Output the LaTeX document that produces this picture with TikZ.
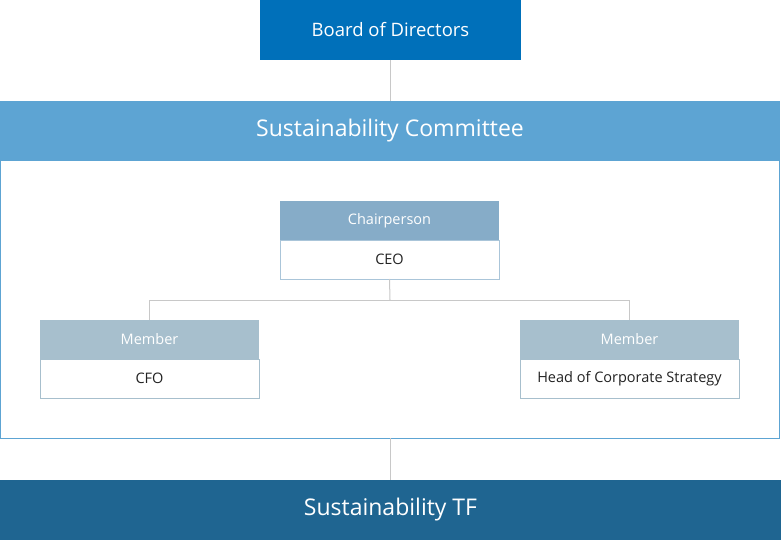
\documentclass[tikz,border=0pt]{standalone}
\usepackage{fontspec}
\setmainfont{Open Sans}
\usetikzlibrary{positioning}

\definecolor{boardblue}{HTML}{0070BA}
\definecolor{cmteblue}{HTML}{5DA4D3}
\definecolor{chairblue}{HTML}{86ACC8}
\definecolor{membergray}{HTML}{A7BFCD}
\definecolor{tfblue}{HTML}{1F6591}
\definecolor{linkgray}{HTML}{C8C8C8}
\definecolor{textdark}{HTML}{222222}

\begin{document}
\begin{tikzpicture}[
    x=1pt, y=-1pt,
    every node/.style   = {inner sep=0pt, outer sep=0pt},
    bigbar/.style       = {anchor=north west, minimum height=60pt,
                           text=white, font=\fontsize{23}{27}\selectfont},
    boardbox/.style     = {anchor=north west, fill=boardblue, minimum width=261pt,
                           minimum height=60pt, text=white,
                           font=\fontsize{18.5}{22}\selectfont},
    cmteframe/.style    = {anchor=north west, draw=cmteblue, line width=1pt,
                           minimum width=779pt, minimum height=277pt},
    rolehead/.style     = {anchor=north west, minimum width=219pt, minimum height=39pt,
                           text=white, font=\fontsize{14.5}{17}\selectfont},
    rolebody/.style     = {anchor=north west, draw=chairblue!70, line width=0.8pt,
                           fill=white, minimum width=219pt, minimum height=39pt,
                           text=textdark, font=\fontsize{14.5}{17}\selectfont},
    link/.style         = {draw=linkgray, line width=1pt}
  ]
\useasboundingbox (0,0) rectangle (781,540);

% =========================================================
% Board and committee
% =========================================================
\node[boardbox] (board) at (260,0) {Board of Directors};
\node[cmteframe] (cmteframe) at (0.5,161) {};
\node[bigbar, fill=cmteblue, minimum width=780pt] (cmte) at (0,101)
  {Sustainability Committee};

% =========================================================
% Chairperson and members
% =========================================================
\node[rolehead, fill=chairblue] (chairhead) at (280,201) {Chairperson};
\node[rolebody] (chair) at (280,240) {CEO};

\node[rolehead, fill=membergray] (cfohead) at (40,320) {Member};
\node[rolebody, draw=membergray] (cfo) at (40,359) {CFO};

\node[rolehead, fill=membergray] (stratehead) at (520,320) {Member};
\node[rolebody, draw=membergray] (strat) at (520,359) {Head of Corporate Strategy};

% =========================================================
% Task force
% =========================================================
\node[bigbar, fill=tfblue, minimum width=781pt] (tf) at (0,480) {Sustainability TF};

% Connectors
\coordinate (split) at (390,300);
\draw[link] (board.south) -- (cmte.north -| board.south);
\draw[link] (chair.south) -- (split);
\draw[link] (split) -| (cfohead.north);
\draw[link] (split) -| (stratehead.north);
\draw[link] (cmteframe.south -| tf.north) -- (tf.north);

\end{tikzpicture}
\end{document}
